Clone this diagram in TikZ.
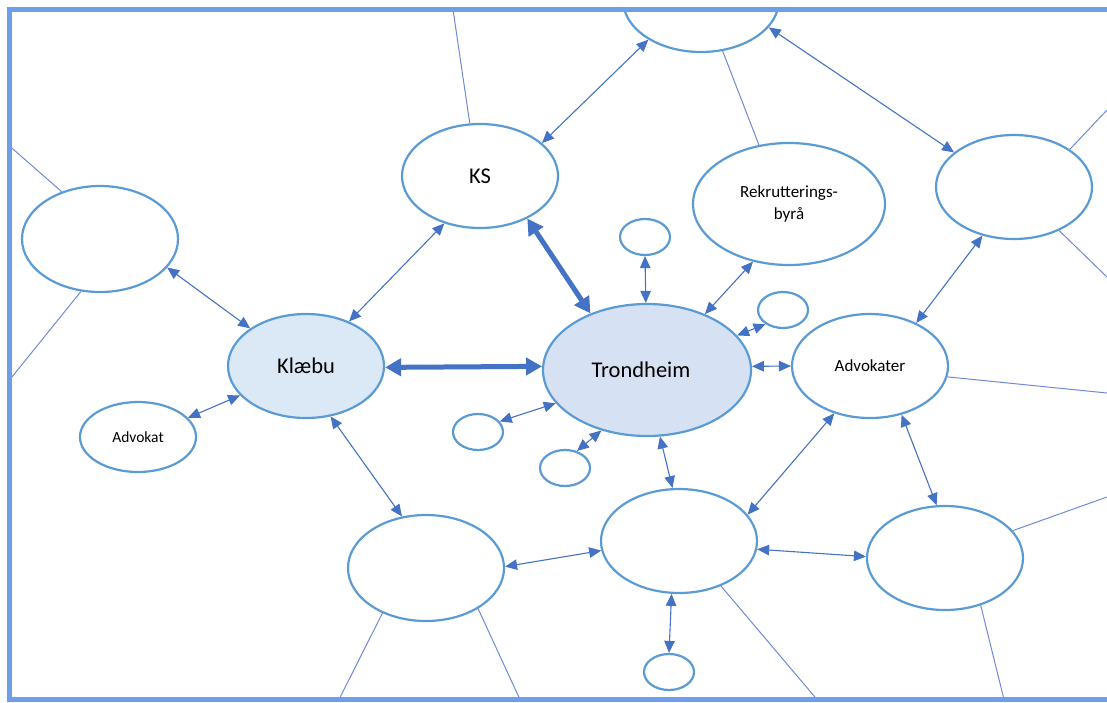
\documentclass[tikz,border=0pt]{standalone}
\usepackage{fontspec}
\setmainfont{Carlito}
\usetikzlibrary{shapes.geometric,arrows.meta}

\definecolor{frameblue}{HTML}{6D9EEB}
\definecolor{ringblue}{HTML}{5B9BD5}
\definecolor{linkblue}{HTML}{4472C4}
\definecolor{tieblue}{HTML}{6F8AD6}
\definecolor{klaebufill}{HTML}{DBE9F7}
\definecolor{trondfill}{HTML}{D7E1F4}

\tikzset{
    bubble/.style={ellipse, draw=ringblue, line width=2.2pt, fill=white, inner sep=0pt,
        minimum width=156pt, minimum height=104pt},
    dot/.style={bubble, minimum width=50pt, minimum height=36pt},
    bigtext/.style={font=\fontsize{22.5}{26}\selectfont},
    midtext/.style={font=\fontsize{17}{22}\selectfont},
    smalltext/.style={font=\fontsize{15.5}{19}\selectfont},
    link/.style={draw=linkblue, line width=1.1pt,
        {Triangle[length=12pt,width=10.5pt]}-{Triangle[length=12pt,width=10.5pt]}},
    boldlink/.style={draw=linkblue, line width=5pt,
        {Triangle[length=16pt,width=17pt]}-{Triangle[length=16pt,width=17pt]}},
    tie/.style={draw=tieblue, line width=1pt}
}

\begin{document}
\begin{tikzpicture}[x=1pt, y=-1pt]
    \useasboundingbox (0,0) rectangle (1107,702);
    \begin{scope}
    \clip (9.5,9.5) rectangle (1107,699.5);
    % Outer ring
    \node[bubble, minimum height=106pt] (tl) at (100,239) {};
    \node[bubble, bigtext] (ks) at (480,176) {KS};
    \node[bubble] (top) at (701,0) {};
    \node[bubble, midtext, align=center, minimum width=192pt, minimum height=122pt]
        (rekr) at (789,204) {Rekrutterings-\\byrå};
    \node[bubble] (rt) at (1014,187) {};
    % Municipalities
    \node[bubble, bigtext, fill=klaebufill] (klaebu) at (306,366) {Klæbu};
    \node[bubble, bigtext, fill=trondfill, minimum width=208pt, minimum height=132pt]
        (trond) at (647,370) {\hspace*{-12pt}Trondheim};
    \node[bubble, smalltext, minimum width=116pt, minimum height=70pt] (advokat) at (138,437) {Advokat};
    \node[bubble, midtext] (advokater) at (870,366) {Advokater};
    % Lower ring
    \node[bubble, minimum height=106pt] (bl) at (426,568) {};
    \node[bubble] (bm) at (679,541) {};
    \node[bubble] (br) at (945,558) {};
    \foreach \n/\x/\y in {s1/645/237, s2/783/310, s3/478/432, s4/565/468, s5/669/672}
        \node[dot] (\n) at (\x,\y) {};

    % Loose ends
    \coordinate (tlup) at (9.5,146);
    \coordinate (tldown) at (9.5,380);
    \coordinate (ksup) at (453,9.5);
    \coordinate (rtup) at (1107,110);
    \coordinate (rtdown) at (1107,277);
    \coordinate (advright) at (1107,393);
    \coordinate (brright) at (1107,497);
    \coordinate (brdown) at (1004,699.5);
    \coordinate (bmdown) at (817,699.5);
    \coordinate (blleft) at (339,699.5);
    \coordinate (blright) at (520,699.5);

    \foreach \a/\b in {tl.129/tlup, tl.250/tldown, ks.101/ksup, top.293/rekr.117,
        rt.34/rtup, rt.-44/rtdown, advokater.-8/advright, br.22/brright,
        br.-53/brdown, bm.-47/bmdown, bl.226/blleft, bl.-38/blright}
        \draw[tie] (\a) -- (\b);

    % Two-way links
    \foreach \a/\b in {tl.-23/klaebu.146, ks.233/klaebu.46, advokat.21/klaebu.204,
        ks.28/top.217, top.-22/rt.150, s1.south/trond.91, rekr.238/trond.44,
        s2.219/trond.21, trond.2/advokater.west, s3.26/trond.200, s4.55/trond.233,
        trond.281/bm.97, klaebu.296/bl.115, bl.1/bm.187, bm.262/s5.north,
        bm.21/advokater.233, bm.-6/br.179, advokater.-57/br.99, rt.237/advokater.43}
        \draw[link] (\a) -- (\b);
    \draw[boldlink] (klaebu.-1) -- (trond.178);
    \draw[boldlink] (ks.-42) -- (trond.135);
    \end{scope}

    % Frame
    \draw[frameblue, line width=5pt] (9.5,9.5) rectangle (1120,699.5);
\end{tikzpicture}
\end{document}
